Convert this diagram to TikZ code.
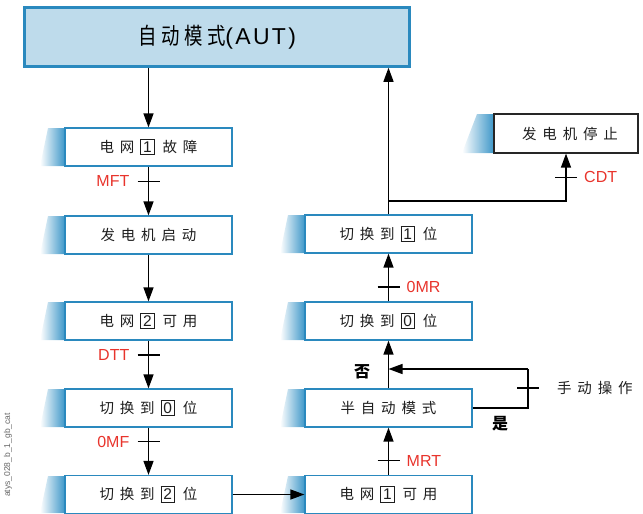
\documentclass[tikz,border=0pt]{standalone}
\usepackage{fontspec}
\setmainfont{Liberation Sans}
\newfontfamily\cjk[LetterSpace=40]{Noto Sans CJK SC}
\newfontfamily\cjktitle[LetterSpace=20,FakeStretch=0.8]{Noto Sans CJK SC}
\newfontfamily\lattitle[LetterSpace=10]{Liberation Sans}
\usetikzlibrary{arrows.meta}
\definecolor{boxblue}{RGB}{42,137,190}
\definecolor{titlefill}{RGB}{190,219,235}
\definecolor{shadeblue}{RGB}{60,150,200}
\definecolor{lblred}{RGB}{232,52,44}
\definecolor{txt}{RGB}{30,30,30}
\newcommand{\bnum}[1]{\hspace*{6pt}{\setlength\fboxsep{1.8pt}\setlength\fboxrule{1pt}\fbox{\fontspec{Liberation Sans}\fontsize{15.5}{15.5}\selectfont #1}}\hspace*{8pt}}
\begin{document}
\begin{tikzpicture}[x=1pt,y=-1pt,
  stepbox/.style={draw=boxblue, line width=1.2pt, fill=white, minimum width=167pt, minimum height=38pt, inner sep=0pt, text=txt, font=\cjk\fontsize{14.5}{14.5}\selectfont},
  arr/.style={line width=1.3pt, -{Triangle[length=14pt,width=10pt]}},
  ln/.style={line width=1.3pt},
  lbl/.style={text=lblred, font=\fontsize{16}{16}\selectfont, inner sep=0pt}]
\useasboundingbox (0,0) rectangle (643,514);
% shading tabs
\foreach \yt/\yb in {128/166,216/254,302/340,389/427,476/513}{
  \shade[left color=white, right color=shadeblue] (40,\yb) -- (48,\yt) -- (65,\yt) -- (65,\yb) -- cycle;
}
\foreach \yt/\yb in {215/253,302/340,389/427,476/513}{
  \shade[left color=white, right color=shadeblue] (280,\yb) -- (288,\yt) -- (305,\yt) -- (305,\yb) -- cycle;
}
\shade[left color=white, right color=shadeblue] (462,153) -- (477,114) -- (494,114) -- (494,153) -- cycle;
% title
\node[draw=boxblue, line width=2.5pt, fill=titlefill, minimum width=385pt, minimum height=59pt, inner sep=0pt] (aut) at (217,37)
  {{\cjktitle\fontsize{23}{23}\selectfont 自动模式}{\lattitle\fontsize{23}{23}\selectfont (AUT)}};
% left column
\node[stepbox] (l1) at (148.5,147) {电网\bnum{1}故障};
\node[stepbox] (l2) at (148.5,235) {发电机启动};
\node[stepbox] (l3) at (148.5,321) {电网\bnum{2}可用};
\node[stepbox] (l4) at (148.5,408) {切换到\bnum{0}位};
\node[stepbox] (l5) at (148.5,494.5) {切换到\bnum{2}位};
% right column
\node[stepbox] (r1) at (388.5,234) {切换到\bnum{1}位};
\node[stepbox] (r2) at (388.5,321) {切换到\bnum{0}位};
\node[stepbox] (r3) at (388.5,408) {半自动模式};
\node[stepbox] (r4) at (388.5,494.5) {电网\bnum{1}可用};
% generator stop
\node[stepbox, draw=black!85, minimum width=144pt, minimum height=39pt] (gs) at (566,133.5) {\hspace{8pt}发电机停止};
% connectors left
\draw[arr] (l1.north |- aut.south) -- (l1.north);
\draw[arr] (l1.south) -- coordinate[pos=0.3] (t1) (l2.north);
\draw[arr] (l2.south) -- (l3.north);
\draw[arr] (l3.south) -- coordinate[pos=0.3] (t2) (l4.north);
\draw[arr] (l4.south) -- coordinate[pos=0.3] (t3) (l5.north);
\draw[arr] (l5.east) -- (r4.west);
% connectors right
\draw[arr] (r4.north) -- coordinate[pos=0.3] (t4) (r3.south);
\draw[arr] (r3.north) -- (r2.south);
\draw[arr] (r2.north) -- coordinate[pos=0.3] (t5) (r1.south);
\draw[arr] (r1.north) -- (r1.north |- aut.south);
\coordinate (br) at (r1.north |- 0,201);
\draw[arr] (br) -| coordinate[pos=0.75] (t6) (gs.south);
\coordinate (fb) at (528,369);
\draw[ln] (r3.east) -| (fb);
\draw[arr] (fb) -- (fb -| r3.north);
\coordinate (t7) at (528,388);
% ticks
\foreach \t in {t1,t2,t3,t4,t5,t6,t7}{\draw[ln] ([xshift=-11pt]\t) -- ([xshift=11pt]\t);}
% labels
\node[lbl, anchor=east] at ([xshift=-19pt]t1) {MFT};
\node[lbl, anchor=east] at ([xshift=-19pt]t2) {DTT};
\node[lbl, anchor=east] at ([xshift=-19pt]t3) {0MF};
\node[lbl, anchor=west] at ([xshift=18pt]t4) {MRT};
\node[lbl, anchor=west] at ([xshift=18pt]t5) {0MR};
\node[lbl, anchor=west] at ([xshift=18pt]t6) {CDT};
\node[anchor=west, inner sep=0pt, text=txt, font=\cjk\fontsize{14.5}{14.5}\selectfont] (man) at ([xshift=29pt]t7) {手动操作};
\node[inner sep=0pt, font=\fontspec{Noto Sans CJK SC}\fontsize{16}{16}\selectfont\bfseries] (no) at (362,372) {否};
\node[inner sep=0pt, font=\fontspec{Noto Sans CJK SC}\fontsize{16}{16}\selectfont\bfseries] (yes) at (500,424) {是};
\node[rotate=90, text=black!60, font=\fontsize{8.5}{9}\selectfont, inner sep=0pt] (code) at (8,455) {atys\_028\_b\_1\_gb\_cat};
\end{tikzpicture}
\end{document}
